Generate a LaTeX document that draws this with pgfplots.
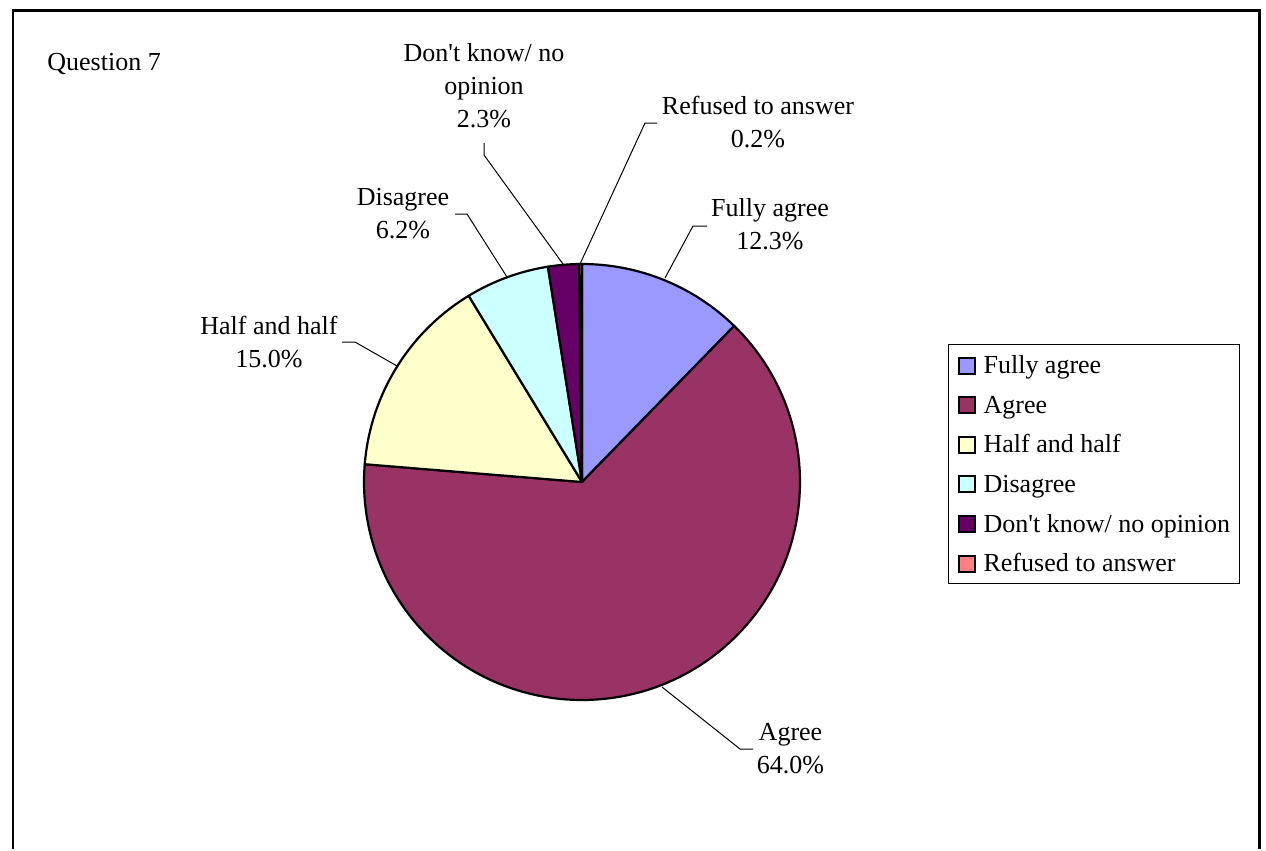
\documentclass[border=0pt]{standalone}
\usepackage{pgfplots}
\usepackage{pgfplotstable}
\pgfplotsset{compat=1.18}
\usepackage{fontspec}
\setmainfont{Liberation Serif}
\definecolor{cFA}{HTML}{9999FF}
\definecolor{cAG}{HTML}{993366}
\definecolor{cHH}{HTML}{FFFFCC}
\definecolor{cDI}{HTML}{CCFFFF}
\definecolor{cDK}{HTML}{660066}
\definecolor{cRF}{HTML}{FF8080}
\newcommand\lf{\fontsize{13}{16.5}\selectfont}
% shares in percent, clockwise from 12 o'clock
\pgfplotstableread{
share
12.3
64.0
15.0
6.2
2.3
0.2
}\piedata
\def\aA{90}
\pgfplotstablegetelem{0}{share}\of\piedata \pgfmathsetmacro\aB{\aA-3.6*\pgfplotsretval}
\pgfplotstablegetelem{1}{share}\of\piedata \pgfmathsetmacro\aC{\aB-3.6*\pgfplotsretval}
\pgfplotstablegetelem{2}{share}\of\piedata \pgfmathsetmacro\aD{\aC-3.6*\pgfplotsretval}
\pgfplotstablegetelem{3}{share}\of\piedata \pgfmathsetmacro\aE{\aD-3.6*\pgfplotsretval}
\pgfplotstablegetelem{4}{share}\of\piedata \pgfmathsetmacro\aF{\aE-3.6*\pgfplotsretval}
\pgfplotstablegetelem{5}{share}\of\piedata \pgfmathsetmacro\aG{\aF-3.6*\pgfplotsretval}
\tikzset{slice/.style={draw=black, line width=1.1pt, line join=round},
         leader/.style={draw=black, line width=0.5pt},
         lab/.style={font=\lf, align=center, inner sep=0pt, anchor=center}}
\begin{document}
\begin{tikzpicture}
\begin{axis}[
  x=0.5pt, y=0.5pt, xmin=0, xmax=1266, ymin=0, ymax=849, y dir=reverse,
  hide axis, scale only axis, enlargelimits=false, clip=false,
  legend image code/.code={\draw[#1] (0pt,0pt) rectangle (8pt,8pt);},
  legend cell align=left,
  legend style={at={(axis cs:948,344)}, anchor=north west, draw=black, line width=0.6pt,
    inner xsep=4.5pt, inner ysep=5pt, row sep=9.3pt, column sep=4pt, font=\lf,
    nodes={inner sep=0pt, text height=9.5pt, text depth=1pt, anchor=base west}},
]
\path (axis cs:0,0) rectangle (axis cs:1266,849);
% frame
\draw[line width=1.25pt] (axis cs:13,849) -- (axis cs:13,10.5) -- (axis cs:1259.5,10.5) -- (axis cs:1259.5,849);
\node[font=\lf, anchor=base west, inner sep=0pt] at (axis cs:47,70) {Question 7};
% pie slices
\filldraw[slice, fill=cFA] (axis cs:582,482) -- ++(\aA:109pt) arc[start angle=\aA, end angle=\aB, radius=109pt] -- cycle;
\filldraw[slice, fill=cAG] (axis cs:582,482) -- ++(\aB:109pt) arc[start angle=\aB, end angle=\aC, radius=109pt] -- cycle;
\filldraw[slice, fill=cHH] (axis cs:582,482) -- ++(\aC:109pt) arc[start angle=\aC, end angle=\aD, radius=109pt] -- cycle;
\filldraw[slice, fill=cDI] (axis cs:582,482) -- ++(\aD:109pt) arc[start angle=\aD, end angle=\aE, radius=109pt] -- cycle;
\filldraw[slice, fill=cDK] (axis cs:582,482) -- ++(\aE:109pt) arc[start angle=\aE, end angle=\aF, radius=109pt] -- cycle;
\filldraw[slice, fill=cRF] (axis cs:582,482) -- ++(\aF:109pt) arc[start angle=\aF, end angle=\aG, radius=109pt] -- cycle;
% leader lines
\draw[leader] (axis cs:665,278) -- (axis cs:693,226) -- (axis cs:707,226);
\draw[leader] (axis cs:580,264) -- (axis cs:645,123) -- (axis cs:657,123);
\draw[leader] (axis cs:563,264) -- (axis cs:484,155) -- (axis cs:484,143);
\draw[leader] (axis cs:507,277) -- (axis cs:467,214) -- (axis cs:455,214);
\draw[leader] (axis cs:397,366) -- (axis cs:355,342) -- (axis cs:342,342);
\draw[leader] (axis cs:662,687) -- (axis cs:740,749) -- (axis cs:753,749);
% data labels
\node[lab] at (axis cs:770,224.6) {Fully agree\\12.3\%};
\node[lab] at (axis cs:758,121.7) {Refused to answer\\0.2\%};
\node[lab] at (axis cs:484,85.2) {Don\textquotesingle t know/ no\\opinion\\2.3\%};
\node[lab] at (axis cs:403,213.7) {Disagree\\6.2\%};
\node[lab] at (axis cs:269,341.7) {Half and half\\15.0\%};
\node[lab] at (axis cs:790.5,748.2) {Agree\\64.0\%};
% legend
\addlegendimage{fill=cFA, draw=black, line width=1pt}
\addlegendentry{Fully agree}
\addlegendimage{fill=cAG, draw=black, line width=1pt}
\addlegendentry{Agree}
\addlegendimage{fill=cHH, draw=black, line width=1pt}
\addlegendentry{Half and half}
\addlegendimage{fill=cDI, draw=black, line width=1pt}
\addlegendentry{Disagree}
\addlegendimage{fill=cDK, draw=black, line width=1pt}
\addlegendentry{Don\textquotesingle t know/ no opinion}
\addlegendimage{fill=cRF, draw=black, line width=1pt}
\addlegendentry{Refused to answer}
\end{axis}
\end{tikzpicture}
\end{document}
